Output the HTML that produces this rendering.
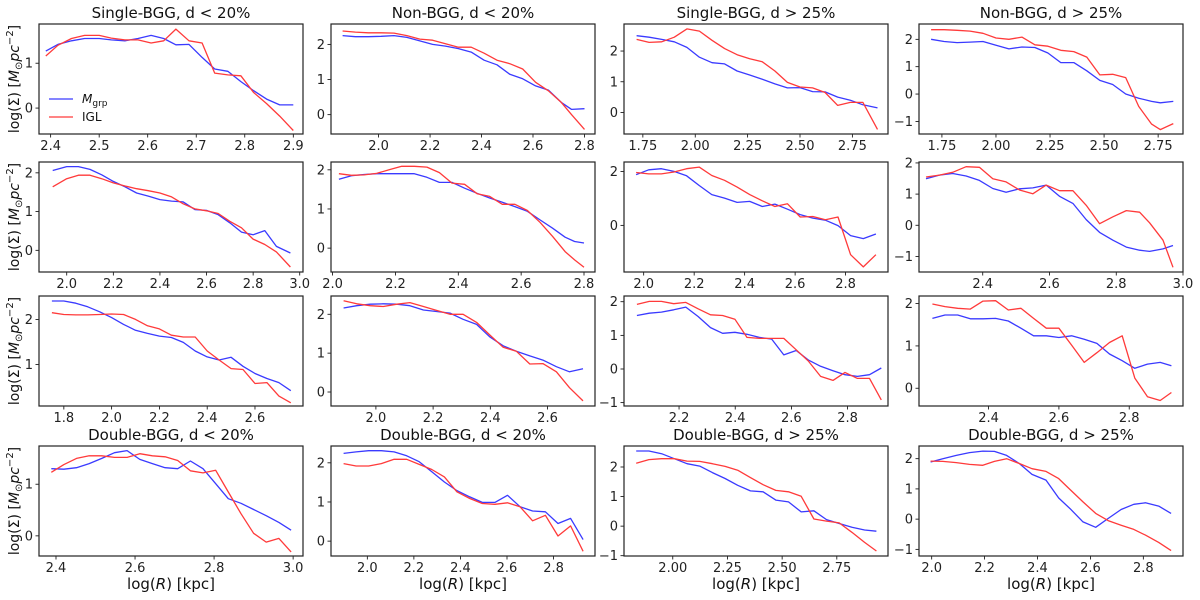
<!DOCTYPE html>
<html><head><meta charset="utf-8"><style>
html,body{margin:0;padding:0;background:#fff;}
svg{display:block;font-family:"DejaVu Sans","Liberation Sans",sans-serif;}
</style></head><body>
<svg id="fig" width="1200" height="600" viewBox="0 0 1200 600" xmlns="http://www.w3.org/2000/svg"></svg>
<script>
// ---- data ----
const p00x=[2.39,2.415,2.443,2.47,2.5,2.525,2.553,2.58,2.607,2.633,2.658,2.685,2.712,2.738,2.765,2.792,2.818,2.845,2.872,2.9];
const p00b=[1.27,1.42,1.5,1.55,1.55,1.52,1.5,1.55,1.62,1.55,1.41,1.42,1.13,0.87,0.82,0.59,0.39,0.2,0.07,0.07];
const p00r=[1.16,1.4,1.55,1.62,1.62,1.56,1.52,1.52,1.45,1.5,1.76,1.5,1.45,0.78,0.74,0.72,0.35,0.1,-0.18,-0.5];
const p01x=[1.86,1.91,1.96,2.01,2.06,2.11,2.16,2.21,2.26,2.31,2.36,2.41,2.46,2.51,2.56,2.61,2.66,2.71,2.75,2.8];
const p01b=[2.25,2.22,2.22,2.23,2.25,2.2,2.1,2.0,1.95,1.88,1.78,1.55,1.42,1.15,1.02,0.82,0.7,0.35,0.15,0.17];
const p01r=[2.38,2.35,2.33,2.33,2.32,2.25,2.15,2.12,2.02,1.92,1.92,1.75,1.55,1.45,1.3,0.92,0.68,0.35,0.0,-0.42];
const p02x=[1.72,1.78,1.84,1.9,1.96,2.02,2.08,2.14,2.2,2.26,2.32,2.38,2.44,2.5,2.56,2.62,2.68,2.74,2.8,2.87];
const p02b=[2.5,2.45,2.38,2.3,2.12,1.8,1.62,1.58,1.35,1.22,1.08,0.93,0.8,0.81,0.68,0.67,0.5,0.4,0.25,0.15];
const p02r=[2.38,2.28,2.3,2.45,2.72,2.65,2.35,2.08,1.88,1.75,1.65,1.35,0.98,0.83,0.8,0.65,0.23,0.33,0.33,-0.55];
const p03x=[1.7,1.76,1.82,1.88,1.94,2.0,2.06,2.12,2.18,2.24,2.3,2.36,2.42,2.48,2.54,2.6,2.66,2.72,2.76,2.82];
const p03b=[2.0,1.92,1.88,1.9,1.92,1.78,1.65,1.72,1.7,1.5,1.15,1.15,0.85,0.5,0.35,0.0,-0.15,-0.27,-0.32,-0.27];
const p03r=[2.35,2.35,2.33,2.3,2.22,2.05,2.0,2.08,1.8,1.75,1.6,1.55,1.35,0.7,0.72,0.6,-0.45,-1.1,-1.3,-1.08];
const p10x=[1.94,2.0,2.05,2.1,2.15,2.2,2.25,2.3,2.35,2.4,2.45,2.5,2.55,2.6,2.65,2.7,2.75,2.8,2.85,2.9,2.96];
const p10b=[2.06,2.16,2.16,2.09,1.95,1.78,1.64,1.48,1.4,1.31,1.27,1.25,1.05,1.03,0.92,0.71,0.47,0.4,0.51,0.1,-0.07];
const p10r=[1.64,1.85,1.94,1.94,1.85,1.74,1.66,1.59,1.54,1.48,1.38,1.2,1.07,1.02,0.95,0.75,0.58,0.29,0.15,-0.04,-0.43];
const p11x=[2.02,2.06,2.1,2.14,2.18,2.22,2.26,2.3,2.34,2.38,2.42,2.46,2.5,2.54,2.58,2.62,2.66,2.7,2.74,2.77,2.8];
const p11b=[1.76,1.85,1.88,1.9,1.9,1.9,1.9,1.81,1.68,1.68,1.53,1.4,1.28,1.17,1.06,0.94,0.72,0.51,0.28,0.17,0.13];
const p11r=[1.9,1.86,1.87,1.91,2.0,2.09,2.09,2.07,1.93,1.66,1.63,1.39,1.32,1.12,1.12,0.96,0.66,0.3,-0.09,-0.3,-0.49];
const p12x=[1.97,2.02,2.07,2.12,2.17,2.22,2.27,2.32,2.37,2.42,2.47,2.52,2.57,2.62,2.67,2.72,2.77,2.82,2.87,2.92];
const p12b=[1.88,2.06,2.1,2.0,1.84,1.48,1.14,1.01,0.85,0.89,0.7,0.79,0.6,0.4,0.27,0.19,-0.01,-0.38,-0.49,-0.32];
const p12r=[1.96,1.91,1.91,1.98,2.1,2.16,1.85,1.67,1.42,1.14,0.91,0.7,0.8,0.31,0.33,0.21,0.31,-1.09,-1.54,-1.09];
const p13x=[2.23,2.27,2.31,2.35,2.39,2.43,2.47,2.51,2.55,2.59,2.63,2.67,2.71,2.75,2.79,2.83,2.87,2.9,2.94,2.97];
const p13b=[1.49,1.61,1.66,1.58,1.44,1.18,1.06,1.17,1.2,1.29,0.93,0.7,0.18,-0.23,-0.48,-0.7,-0.8,-0.84,-0.76,-0.65];
const p13r=[1.55,1.61,1.7,1.88,1.86,1.49,1.39,1.13,1.01,1.29,1.11,1.11,0.64,0.05,0.27,0.47,0.42,0.08,-0.48,-1.35];
const p20x=[1.75,1.8,1.85,1.9,1.95,2.0,2.05,2.1,2.15,2.2,2.25,2.3,2.35,2.4,2.45,2.5,2.55,2.6,2.65,2.7,2.75];
const p20b=[2.41,2.41,2.36,2.28,2.17,2.04,1.89,1.76,1.69,1.63,1.6,1.49,1.3,1.17,1.1,1.16,0.96,0.8,0.69,0.6,0.42];
const p20r=[2.15,2.11,2.1,2.1,2.11,2.12,2.11,2.0,1.86,1.79,1.65,1.61,1.61,1.3,1.1,0.91,0.89,0.58,0.6,0.3,0.15];
const p21x=[1.887,1.933,1.98,2.026,2.073,2.119,2.166,2.212,2.259,2.305,2.352,2.398,2.445,2.491,2.538,2.584,2.631,2.677,2.724];
const p21b=[2.16,2.22,2.26,2.27,2.26,2.22,2.11,2.07,2.03,1.87,1.74,1.42,1.19,1.05,0.93,0.82,0.65,0.52,0.6];
const p21r=[2.35,2.27,2.22,2.2,2.26,2.3,2.2,2.1,2.0,2.0,1.79,1.47,1.15,1.05,0.72,0.73,0.52,0.11,-0.23];
const p22x=[2.05,2.094,2.137,2.181,2.224,2.268,2.312,2.355,2.399,2.442,2.486,2.53,2.573,2.617,2.66,2.704,2.748,2.791,2.835,2.878,2.92];
const p22b=[1.59,1.66,1.69,1.76,1.84,1.56,1.23,1.06,1.09,1.03,0.94,0.89,0.42,0.55,0.27,0.08,-0.05,-0.17,-0.22,-0.17,0.03];
const p22r=[1.92,2.01,2.01,1.94,1.98,1.79,1.61,1.59,1.48,0.94,0.91,0.91,0.91,0.57,0.24,-0.22,-0.34,-0.1,-0.28,-0.28,-0.92];
const p23x=[2.24,2.276,2.312,2.348,2.384,2.42,2.456,2.492,2.528,2.564,2.6,2.636,2.672,2.708,2.744,2.78,2.816,2.852,2.888,2.92];
const p23b=[1.65,1.73,1.73,1.64,1.64,1.65,1.59,1.42,1.24,1.24,1.2,1.24,1.16,1.06,0.81,0.65,0.47,0.57,0.61,0.53];
const p23r=[1.99,1.93,1.89,1.87,2.06,2.07,1.85,1.89,1.65,1.42,1.42,1.02,0.61,0.84,1.08,1.24,0.24,-0.2,-0.29,-0.1];
const p30x=[2.388,2.42,2.452,2.484,2.516,2.548,2.58,2.612,2.644,2.676,2.708,2.74,2.772,2.804,2.836,2.868,2.9,2.932,2.964,2.995];
const p30b=[1.3,1.29,1.32,1.4,1.5,1.61,1.65,1.48,1.4,1.32,1.3,1.45,1.3,1.01,0.72,0.63,0.51,0.39,0.26,0.11];
const p30r=[1.23,1.38,1.5,1.55,1.55,1.52,1.52,1.59,1.55,1.53,1.46,1.26,1.22,1.27,0.85,0.43,0.05,-0.12,-0.05,-0.31];
const p31x=[1.898,1.952,2.006,2.06,2.115,2.169,2.223,2.277,2.331,2.385,2.44,2.494,2.548,2.602,2.656,2.71,2.765,2.819,2.873,2.927];
const p31b=[2.24,2.28,2.31,2.31,2.28,2.18,2.03,1.77,1.51,1.29,1.13,0.99,0.99,1.17,0.88,0.77,0.75,0.45,0.58,0.04];
const p31r=[1.98,1.92,1.92,1.98,2.09,2.09,1.96,1.83,1.64,1.26,1.09,0.96,0.94,0.98,0.88,0.52,0.66,0.13,0.39,-0.26];
const p32x=[1.833,1.891,1.949,2.007,2.065,2.123,2.181,2.239,2.297,2.355,2.413,2.471,2.529,2.587,2.645,2.703,2.761,2.819,2.877,2.931];
const p32b=[2.54,2.54,2.45,2.28,2.11,2.03,1.81,1.61,1.38,1.19,1.16,0.88,0.82,0.48,0.52,0.22,0.09,-0.04,-0.13,-0.17];
const p32r=[2.13,2.25,2.28,2.28,2.2,2.19,2.11,2.02,1.89,1.64,1.4,1.21,1.16,1.01,0.24,0.17,0.11,-0.21,-0.55,-0.84];
const p33x=[1.996,2.042,2.093,2.143,2.193,2.237,2.283,2.331,2.379,2.432,2.48,2.523,2.572,2.62,2.667,2.716,2.764,2.808,2.858,2.905];
const p33b=[1.89,2.0,2.11,2.2,2.25,2.24,2.11,1.84,1.48,1.29,0.7,0.35,-0.09,-0.27,0.02,0.32,0.49,0.54,0.43,0.19];
const p33r=[1.92,1.91,1.87,1.81,1.78,1.91,2.0,1.84,1.67,1.58,1.34,0.98,0.57,0.19,-0.05,-0.2,-0.34,-0.53,-0.77,-1.04];

const titles=["Single-BGG, d < 20%","Non-BGG, d < 20%","Single-BGG, d > 25%","Non-BGG, d > 25%",
 "Double-BGG, d < 20%","Double-BGG, d < 20%","Double-BGG, d > 25%","Double-BGG, d > 25%"];

// ---- layout / axes ----
const colL=[39,331,624,919], W=264, rowT=[24,162,296,446], H=110;
const panels=[
 {r:0,c:0,x:p00x,b:p00b,r2:p00r,xl:[2.376,2.92],yl:[-0.578,1.874],xt:[2.4,2.5,2.6,2.7,2.8,2.9],yt:[0,1],d:1,t:titles[0]},
 {r:0,c:1,x:p01x,b:p01b,r2:p01r,xl:[1.815,2.841],yl:[-0.55,2.58],xt:[2.0,2.2,2.4,2.6,2.8],yt:[0,1,2],d:1,t:titles[1]},
 {r:0,c:2,x:p02x,b:p02b,r2:p02r,xl:[1.66,2.92],yl:[-0.70,2.88],xt:[1.75,2.0,2.25,2.5,2.75],yt:[0,1,2],d:2,t:titles[2]},
 {r:0,c:3,x:p03x,b:p03b,r2:p03r,xl:[1.644,2.865],yl:[-1.46,2.56],xt:[1.75,2.0,2.25,2.5,2.75],yt:[-1,0,1,2],d:2,t:titles[3]},
 {r:1,c:0,x:p10x,b:p10b,r2:p10r,xl:[1.881,3.014],yl:[-0.56,2.28],xt:[2.0,2.2,2.4,2.6,2.8,3.0],yt:[0,1,2],d:1},
 {r:1,c:1,x:p11x,b:p11b,r2:p11r,xl:[1.995,2.835],yl:[-0.61,2.2],xt:[2.0,2.2,2.4,2.6,2.8],yt:[0,1,2],d:1},
 {r:1,c:2,x:p12x,b:p12b,r2:p12r,xl:[1.922,2.968],yl:[-1.73,2.35],xt:[2.0,2.2,2.4,2.6,2.8],yt:[0,2],d:1},
 {r:1,c:3,x:p13x,b:p13b,r2:p13r,xl:[2.209,3.0],yl:[-1.5,2.03],xt:[2.4,2.6,2.8,3.0],yt:[-1,0,1,2],d:1},
 {r:2,c:0,x:p20x,b:p20b,r2:p20r,xl:[1.696,2.801],yl:[0.08,2.52],xt:[1.8,2.0,2.2,2.4,2.6],yt:[1,2],d:1},
 {r:2,c:1,x:p21x,b:p21b,r2:p21r,xl:[1.843,2.766],yl:[-0.36,2.47],xt:[2.0,2.2,2.4,2.6],yt:[0,1,2],d:1},
 {r:2,c:2,x:p22x,b:p22b,r2:p22r,xl:[2.004,2.944],yl:[-1.1,2.17],xt:[2.2,2.4,2.6,2.8],yt:[-1,0,1,2],d:1},
 {r:2,c:3,x:p23x,b:p23b,r2:p23r,xl:[2.202,2.953],yl:[-0.42,2.18],xt:[2.4,2.6,2.8],yt:[0,1,2],d:1},
 {r:3,c:0,x:p30x,b:p30b,r2:p30r,xl:[2.357,3.025],yl:[-0.39,1.74],xt:[2.4,2.6,2.8,3.0],yt:[0,1],d:1,t:titles[4]},
 {r:3,c:1,x:p31x,b:p31b,r2:p31r,xl:[1.844,2.978],yl:[-0.38,2.43],xt:[2.0,2.2,2.4,2.6,2.8],yt:[0,1,2],d:1,t:titles[5]},
 {r:3,c:2,x:p32x,b:p32b,r2:p32r,xl:[1.777,2.984],yl:[-1.01,2.71],xt:[2.0,2.25,2.5,2.75],yt:[-1,0,1,2],d:2,t:titles[6]},
 {r:3,c:3,x:p33x,b:p33b,r2:p33r,xl:[1.952,2.95],yl:[-1.22,2.42],xt:[2.0,2.2,2.4,2.6,2.8],yt:[-1,0,1,2],d:1,t:titles[7]}
];
const NS="http://www.w3.org/2000/svg";
const svg=document.getElementById('fig');
function mk(tag,attrs,parent){const e=document.createElementNS(NS,tag);for(const k in attrs)e.setAttribute(k,attrs[k]);(parent||svg).appendChild(e);return e;}
function fmt(v){return (v<0?"\u2212":"")+Math.abs(v).toFixed(0);}

panels.forEach((p,i)=>{
  const L=colL[p.c],T=rowT[p.r];
  const g=mk('g',{});
  
  
  const sx=v=>L+(v-p.xl[0])/(p.xl[1]-p.xl[0])*W;
  const sy=v=>T+H-(v-p.yl[0])/(p.yl[1]-p.yl[0])*H;
  const clipId='clip'+i;
  const cp=mk('clipPath',{id:clipId},g);mk('rect',{x:L,y:T,width:W,height:H},cp);
  // ticks
  p.xt.forEach(v=>{
    const x=sx(v);
    const tk=mk('line',{x1:x,x2:x,y1:T+H,y2:T+H+3.5,stroke:'#000','stroke-width':0.8},g);
    
    
    const lb=mk('text',{x:x,y:T+H+16,'text-anchor':'middle','font-size':13,fill:'#222'},g);
    lb.textContent=v.toFixed(p.d);
    
    
  });
  p.yt.forEach(v=>{
    const y=sy(v);
    const tk=mk('line',{x1:L-3.5,x2:L,y1:y,y2:y,stroke:'#000','stroke-width':0.8},g);
    
    
    const lb=mk('text',{x:L-6,y:y+4.5,'text-anchor':'end','font-size':13,fill:'#222'},g);
    lb.textContent=fmt(v);
    
    
  });
  const mkLine=(ys,col,name)=>{
    const d=p.x.map((x,k)=>(k?'L':'M')+sx(x).toFixed(1)+','+sy(ys[k]).toFixed(1)).join(' ');
    const pl=mk('path',{d:d,fill:'none',stroke:col,'stroke-width':1.3,'stroke-linejoin':'round','clip-path':'url(#'+clipId+')'},g);
    
    
  };
  mkLine(p.b,'#3a3aff','mgrp-line');
  mkLine(p.r2,'#ff3a3a','igl-line');
  const fr=mk('rect',{x:L,y:T,width:W,height:H,fill:'none',stroke:'#222','stroke-width':1.2},g);
  
  
  if(p.t){
    const tt=mk('text',{x:L+W/2,y:T-6,'text-anchor':'middle','font-size':15,fill:'#111'},g);
    tt.textContent=p.t;
    
    
  }
  if(p.r===3){
    const xlab=mk('text',{x:L+W/2,y:589,'text-anchor':'middle','font-size':15,fill:'#111'},g);
    xlab.innerHTML='log(<tspan font-style="italic">R</tspan>) [kpc]';
    
    
  }
  if(p.c===0){
    const cy=T+H/2;
    const ylab=mk('text',{x:0,y:0,'text-anchor':'middle','font-size':14,fill:'#111',transform:'translate(19,'+cy+') rotate(-90)'},g);
    ylab.innerHTML='log(\u03A3) [<tspan font-style="italic">M</tspan><tspan font-size="10" dy="3">\u2299</tspan><tspan dy="-3" font-style="italic">pc</tspan><tspan font-size="10" dy="-6">\u22122</tspan><tspan dy="6">]</tspan>';
    
    
  }
  if(i===0){
    const lg=mk('g',{},g);
    
    
    const e1=mk('line',{x1:L+10,x2:L+34,y1:T+75,y2:T+75,stroke:'#3a3aff','stroke-width':1.3},lg);
    
    
    const t1=mk('text',{x:L+43,y:T+79,'font-size':12,fill:'#111'},lg);
    t1.innerHTML='<tspan font-style="italic">M</tspan><tspan font-size="9" dy="3">grp</tspan>';
    
    
    const e2=mk('line',{x1:L+10,x2:L+34,y1:T+93,y2:T+93,stroke:'#ff3a3a','stroke-width':1.3},lg);
    
    
    const t2=mk('text',{x:L+43,y:T+97,'font-size':12,fill:'#111'},lg);
    t2.textContent='IGL';
    
    
  }
});
</script>
</body></html>
